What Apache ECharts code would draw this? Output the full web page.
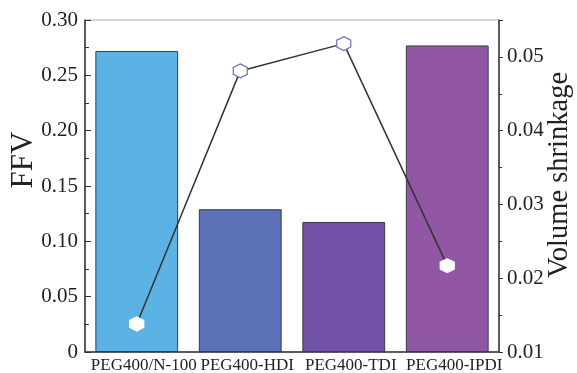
<!DOCTYPE html>
<html>
<head>
<meta charset="utf-8">
<script src="https://cdn.jsdelivr.net/npm/echarts@6/dist/echarts.min.js"></script>
<style>
  html, body { margin: 0; padding: 0; background: #fff; }
  #chart { width: 577px; height: 373px; }
</style>
</head>
<body>
<div id="chart"></div>
<script>
const categories = ['PEG400/N-100', 'PEG400-HDI', 'PEG400-TDI', 'PEG400-IPDI'];
const ffv = [0.272, 0.129, 0.1175, 0.277];
const shrinkage = [0.0138, 0.0481, 0.0518, 0.0217];
const barColors = ['#5bb2e4', '#5b70b6', '#7152a6', '#9157a4'];
const markerBorders = ['#ffffff', '#6570c8', '#8468c2', '#ffffff'];

const hexagon = 'path://M0,-1L0.866,-0.5L0.866,0.5L0,1L-0.866,0.5L-0.866,-0.5Z';
const font = '"Liberation Serif", "Times New Roman", serif';

const chart = echarts.init(document.getElementById('chart'));

chart.setOption({
    animation: false,
    grid: {
        left: 85, right: 78, top: 20, bottom: 21,
        outerBoundsMode: 'none',
        containLabel: false,
        show: true, borderColor: '#aaaaaa', borderWidth: 1
    },
    xAxis: {
        type: 'category',
        data: categories,
        axisLine: { lineStyle: { color: '#333', width: 1.5 } },
        axisTick: { show: false },
        axisLabel: {
            fontFamily: font, fontSize: 17, color: '#222', margin: 5, interval: 0,
            hideOverlap: false, padding: [0, 0, 0, 14]
        }
    },
    yAxis: [
        {
            type: 'value',
            min: 0, max: 0.3, interval: 0.05,
            name: 'FFV',
            nameLocation: 'middle',
            nameGap: 46,
            nameMoveOverlap: false,
            nameTextStyle: { fontFamily: font, fontSize: 31, color: '#222', padding: [0, 0, 0, 52] },
            axisLine: { show: true, lineStyle: { color: '#333', width: 1.5 } },
            axisTick: { show: true, inside: true, length: 6, lineStyle: { color: '#333' } },
            minorTick: { show: true, splitNumber: 2, length: 4, lineStyle: { color: '#333' } },
            splitLine: { show: false },
            axisLabel: {
                fontFamily: font, fontSize: 21, color: '#222', margin: 7,
                formatter: v => v === 0 ? '0' : v.toFixed(2)
            }
        },
        {
            type: 'value',
            min: 0.01, max: 0.055, interval: 0.01,
            name: 'Volume shrinkage',
            nameLocation: 'middle',
            nameGap: 46,
            nameMoveOverlap: false,
            nameRotate: 90,
            nameTextStyle: { fontFamily: font, fontSize: 28.5, color: '#222', padding: [0, 0, 0, 22] },
            axisLine: { show: true, lineStyle: { color: '#333', width: 1.5 } },
            axisTick: { show: true, inside: false, length: 4, lineStyle: { color: '#333' } },
            minorTick: { show: true, splitNumber: 2, length: 3, lineStyle: { color: '#333' } },
            splitLine: { show: false },
            axisLabel: {
                fontFamily: font, fontSize: 21, color: '#222', margin: 8,
                formatter: v => Math.abs(v - 0.055) < 1e-6 ? '' : v.toFixed(2)
            }
        }
    ],
    series: [
        {
            type: 'bar',
            yAxisIndex: 0,
            barWidth: '80%',
            data: ffv.map((v, i) => ({
                value: v,
                itemStyle: { color: barColors[i], borderColor: '#3a3a4a', borderWidth: 1 }
            }))
        },
        {
            type: 'line',
            yAxisIndex: 1,
            symbol: hexagon,
            symbolSize: 14,
            lineStyle: { color: '#333333', width: 1.5 },
            data: shrinkage.map((v, i) => ({
                value: v,
                itemStyle: { color: '#ffffff', borderColor: markerBorders[i], borderWidth: 1.2 }
            }))
        }
    ]
});
</script>
</body>
</html>
